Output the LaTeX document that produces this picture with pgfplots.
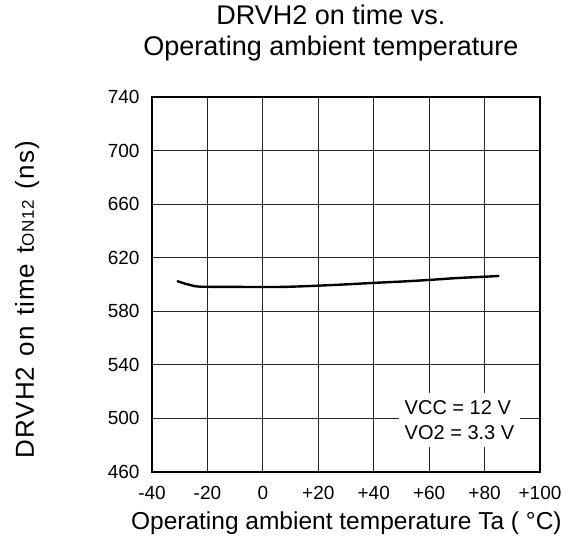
\documentclass[border=0pt]{standalone}
\usepackage{fontspec}
\setmainfont{Liberation Sans}
\usepackage{pgfplots}
\pgfplotsset{compat=1.18}
\begin{document}
\begin{tikzpicture}[x=1pt,y=1pt]
\useasboundingbox (-152,-80) rectangle (422,472);
\begin{axis}[
  at={(0,0)}, anchor=south west,
  scale only axis, width=388pt, height=375pt,
  xmin=-40, xmax=100, ymin=460, ymax=740,
  xtick={-40,-20,0,20,40,60,80,100},
  xticklabels={-40,-20,0,+20,+40,+60,+80,+100},
  ytick={460,500,540,580,620,660,700,740},
  grid=major,
  major grid style={black!85, line width=0.8pt},
  axis line style={line width=1.1pt},
  tick style={draw=none},
  /pgf/number format/assume math mode=true,
  ticklabel style={font=\fontsize{19}{22}\selectfont},
  xticklabel style={yshift=-11pt},
  yticklabel style={xshift=-9pt},
  title={DRVH2 on time vs.\\Operating ambient temperature},
  title style={align=center, font=\fontsize{27}{31}\selectfont, at={(axis description cs:0.461,1.239)}, anchor=north},
  xlabel={Operating ambient temperature Ta ( °C)},
  xlabel style={font=\fontsize{24.5}{28}\selectfont, at={(axis description cs:0.501,-0.137)}, anchor=center},
  ylabel={DRVH2\hspace{0.4em}on\hspace{0.4em}time\hspace{0.4em}t{\fontsize{17}{19}\selectfont ON12}\hspace{0.4em}(ns)},
  ylabel style={font=\fontsize{26}{30}\selectfont\addfontfeature{LetterSpace=4}, at={(axis description cs:-0.322,0.459)}, anchor=center, rotate=0},
]
\addplot[black, line width=2.4pt, smooth] coordinates {
(-31,602.6) (-28,600.6) (-24,598.6) (-20,598.3) (-10,598.2) (0,598.1) (7,598.2) (15,598.7) (25,599.6) (31,600.2) (40,601.2) (50,602.2) (60,603.4) (70,604.8) (80,605.8) (85.3,606.4)
};
\node[fill=white, align=left, inner xsep=6pt, inner ysep=7pt, font=\fontsize{20}{25}\selectfont] at (axis cs:70.95,498.8) {VCC = 12 V\\VO2 = 3.3 V};
\end{axis}
\end{tikzpicture}
\end{document}
